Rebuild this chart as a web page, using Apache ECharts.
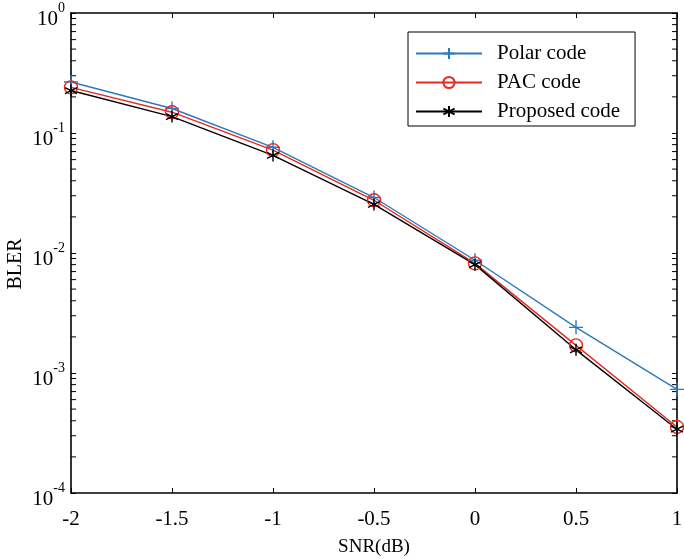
<!DOCTYPE html>
<html>
<head>
<meta charset="utf-8">
<script src="https://cdn.jsdelivr.net/npm/echarts@6/dist/echarts.min.js"></script>
<style>html,body{margin:0;padding:0;background:#fff}#c{width:684px;height:559px}</style>
</head>
<body>
<div id="c"></div>
<script>
const snr = [-2, -1.5, -1, -0.5, 0, 0.5, 1];
const polar = [0.266, 0.160, 0.076, 0.029, 0.0087, 0.0024, 0.00073];
const pac = [0.240, 0.149, 0.072, 0.0275, 0.0082, 0.0017, 0.000355];
const proposed = [0.226, 0.137, 0.065, 0.0254, 0.0080, 0.00156, 0.00034];
const xTicks = ['-2', '-1.5', '-1', '-0.5', '0', '0.5', '1'];
const yDecades = [-4, -3, -2, -1, 0];
const minorMult = [2, 3, 4, 5, 6, 7, 8, 9];

const FONT = '"Liberation Serif", "Times New Roman", serif';
const minorVals = [];
yDecades.slice(0, -1).forEach(d => minorMult.forEach(m => minorVals.push([snr[0], m * Math.pow(10, d)])));

const PLUS = 'path://M5,0 L5,10 M0,5 L10,5';
const STAR = 'path://M5,0 L5,10 M0.67,2.5 L9.33,7.5 M0.67,7.5 L9.33,2.5';

const chart = echarts.init(document.getElementById('c'), null, {renderer: 'canvas'});
const axisLine = {show: true, onZero: false, lineStyle: {color: '#000', width: 1.6}};
const yLabel = {
  fontFamily: FONT, color: '#000', margin: 6,
  formatter: v => '{b|10}{s|' + Math.round(Math.log10(v)) + '}',
  rich: {
    b: {fontFamily: FONT, fontSize: 21, color: '#000', padding: [12, 0, 0, 0]},
    s: {fontFamily: FONT, fontSize: 14, color: '#000', padding: [0, 0, 10, 0]}
  }
};
const option = {
  animation: false,
  backgroundColor: '#fff',
  grid: {left: 71, top: 13, right: 7, bottom: 66, containLabel: false, outerBoundsMode: 'none'},
  legend: {
    data: ['Polar code', 'PAC code', 'Proposed code'],
    orient: 'vertical', left: 408, top: 32,
    backgroundColor: '#fff', borderColor: '#000', borderWidth: 1, borderRadius: 0,
    padding: [11, 15, 4, 7],
    itemWidth: 66, itemHeight: 14, itemGap: 8,
    textStyle: {fontFamily: FONT, fontSize: 21, color: '#000', padding: [0, 0, 0, 10]}
  },
  xAxis: [{
    type: 'value', min: -2, max: 1, interval: 0.5, position: 'bottom',
    name: 'SNR(dB)', nameLocation: 'middle', nameGap: 45,
    nameTextStyle: {fontFamily: FONT, fontSize: 19, color: '#000'},
    axisLine: axisLine,
    axisTick: {show: true, inside: true, length: 5, lineStyle: {color: '#000', width: 1}},
    axisLabel: {fontFamily: FONT, fontSize: 21, color: '#000', margin: 16,
      formatter: v => xTicks[Math.round((v - snr[0]) / 0.5)]},
    splitLine: {show: false}
  }, {
    type: 'value', min: -2, max: 1, interval: 0.5, position: 'top',
    axisLine: axisLine,
    axisTick: {show: true, inside: true, length: 5, lineStyle: {color: '#000', width: 1}},
    axisLabel: {show: false}, splitLine: {show: false}
  }],
  yAxis: [{
    type: 'log', logBase: 10, min: 1e-4, max: 1, interval: 1, position: 'left',
    name: 'BLER', nameLocation: 'middle', nameGap: 45, nameRotate: 90, nameMoveOverlap: false,
    nameTextStyle: {fontFamily: FONT, fontSize: 20, color: '#000', padding: [0, 22, 0, 0]},
    axisLine: axisLine,
    axisTick: {show: true, inside: true, length: 5, lineStyle: {color: '#000', width: 1}},
    axisLabel: yLabel,
    splitLine: {show: false}
  }, {
    type: 'log', logBase: 10, min: 1e-4, max: 1, interval: 1, position: 'right',
    axisLine: axisLine,
    axisTick: {show: true, inside: true, length: 5, lineStyle: {color: '#000', width: 1}},
    axisLabel: {show: false}, splitLine: {show: false}
  }],
  series: [
    {
      type: 'custom', name: 'minorTicks', silent: true, z: 1, clip: false,
      xAxisIndex: 0, yAxisIndex: 0,
      data: minorVals,
      renderItem: (params, api) => {
        const v = api.value(1);
        const l = api.coord([snr[0], v]);
        const r = api.coord([snr[snr.length - 1], v]);
        return {type: 'group', children: [
          {type: 'line', shape: {x1: l[0], y1: l[1], x2: l[0] + 5, y2: l[1]}, style: {stroke: '#000', lineWidth: 1}},
          {type: 'line', shape: {x1: r[0], y1: r[1], x2: r[0] - 5, y2: r[1]}, style: {stroke: '#000', lineWidth: 1}}
        ]};
      }
    },
    {
      name: 'Polar code', type: 'line', data: snr.map((x, i) => [x, polar[i]]),
      symbol: PLUS, symbolSize: 14, showAllSymbol: true, clip: false,
      lineStyle: {color: '#2a7abf', width: 1.4},
      itemStyle: {color: '#2a7abf', borderColor: '#2a7abf', borderWidth: 1.4}
    },
    {
      name: 'PAC code', type: 'line', data: snr.map((x, i) => [x, pac[i]]),
      symbol: 'circle', symbolSize: 13, showAllSymbol: true, clip: false,
      lineStyle: {color: '#e8291f', width: 1.4},
      itemStyle: {color: 'rgba(0,0,0,0)', borderColor: '#e8291f', borderWidth: 1.4}
    },
    {
      name: 'Proposed code', type: 'line', data: snr.map((x, i) => [x, proposed[i]]),
      symbol: STAR, symbolSize: 12, showAllSymbol: true, clip: false,
      lineStyle: {color: '#000', width: 1.4},
      itemStyle: {color: '#000', borderColor: '#000', borderWidth: 1.4}
    }
  ]
};
chart.setOption(option);
</script>
</body>
</html>
